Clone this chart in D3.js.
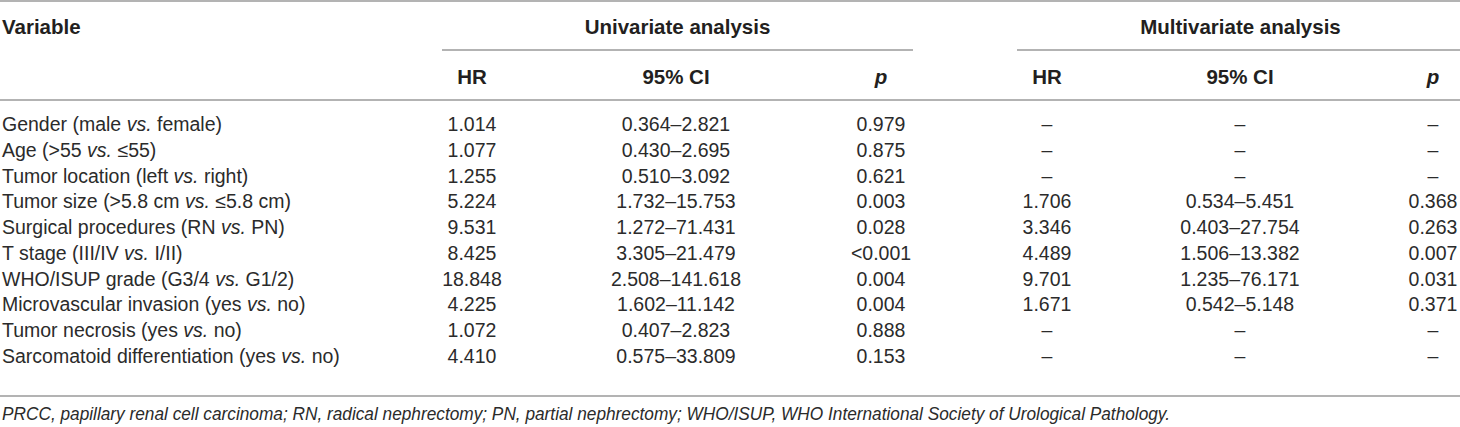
<!DOCTYPE html>
<html>
<head>
<meta charset="utf-8">
<script src="https://cdn.jsdelivr.net/npm/d3@7"></script>
<style>
  html, body { margin: 0; padding: 0; background: #fff; }
  svg { display: block; }
  text { font-family: "Liberation Sans", Arial, Helvetica, sans-serif; }
</style>
</head>
<body>
<div id="chart"></div>
<script>
// ---------- data ----------
const variables = [
  ["Gender (male ", "vs.", " female)"],
  ["Age (>55 ", "vs.", " ≤55)"],
  ["Tumor location (left ", "vs.", " right)"],
  ["Tumor size (>5.8 cm ", "vs.", " ≤5.8 cm)"],
  ["Surgical procedures (RN ", "vs.", " PN)"],
  ["T stage (III/IV ", "vs.", " I/II)"],
  ["WHO/ISUP grade (G3/4 ", "vs.", " G1/2)"],
  ["Microvascular invasion (yes ", "vs.", " no)"],
  ["Tumor necrosis (yes ", "vs.", " no)"],
  ["Sarcomatoid differentiation (yes ", "vs.", " no)"]
];
const uniHR = [1.014, 1.077, 1.255, 5.224, 9.531, 8.425, 18.848, 4.225, 1.072, 4.410];
const uniCI = [[0.364, 2.821], [0.430, 2.695], [0.510, 3.092], [1.732, 15.753], [1.272, 71.431],
               [3.305, 21.479], [2.508, 141.618], [1.602, 11.142], [0.407, 2.823], [0.575, 33.809]];
const uniP = ["0.979", "0.875", "0.621", "0.003", "0.028", "<0.001", "0.004", "0.004", "0.888", "0.153"];
const multiHR = [null, null, null, 1.706, 3.346, 4.489, 9.701, 1.671, null, null];
const multiCI = [null, null, null, [0.534, 5.451], [0.403, 27.754], [1.506, 13.382], [1.235, 76.171],
                 [0.542, 5.148], null, null];
const multiP = [null, null, null, "0.368", "0.263", "0.007", "0.031", "0.371", null, null];
const groupHeaders = ["Univariate analysis", "Multivariate analysis"];
const columnHeaders = ["HR", "95% CI", "p", "HR", "95% CI", "p"];
const footnote = "PRCC, papillary renal cell carcinoma; RN, radical nephrectomy; PN, partial nephrectomy; WHO/ISUP, WHO International Society of Urological Pathology.";

// ---------- layout ----------
const W = 1460, H = 427;
const ruleColor = "#9a9a9a";
const textColor = "#231f20";
const bodyColor = "#2b2b2b";
const fsHead = 20.5;
const fsBody = 19.5;

const svg = d3.select("#chart").append("svg").attr("width", W).attr("height", H);

const colKeys = ["uHR", "uCI", "uP", "mHR", "mCI", "mP"];
const xCol = d3.scaleOrdinal().domain(colKeys).range([472, 676, 881, 1047, 1240, 1433]);
const yRow = d3.scaleLinear().domain([0, variables.length - 1]).range([131, 363]);

const fmt = d3.format(".3f");
const dash = "–";
const fmtHR = v => v == null ? dash : fmt(v);
const fmtCI = v => v == null ? dash : fmt(v[0]) + "–" + fmt(v[1]);
const fmtP = v => v == null ? dash : v;

// rules
function rule(x1, x2, y) {
  svg.append("line").attr("x1", x1).attr("x2", x2).attr("y1", y).attr("y2", y)
    .attr("stroke", ruleColor).attr("stroke-width", 1.5);
}
rule(0, W, 1);
rule(442, 913, 50);
rule(1017, W, 50);
rule(0, W, 100);
rule(0, W, 396);

// header row 1
svg.append("text").attr("x", 2).attr("y", 34).attr("font-size", fsHead).attr("font-weight", "bold")
  .attr("fill", textColor).text("Variable");
svg.selectAll(".grp").data(groupHeaders).join("text")
  .attr("x", (d, i) => i === 0 ? (442 + 913) / 2 : (1017 + W) / 2 + 2)
  .attr("y", 34).attr("text-anchor", "middle").attr("font-size", fsHead).attr("font-weight", "bold")
  .attr("fill", textColor).text(d => d);

// header row 2
svg.selectAll(".colh").data(columnHeaders).join("text")
  .attr("x", (d, i) => xCol(colKeys[i]))
  .attr("y", 84).attr("text-anchor", "middle").attr("font-size", fsHead).attr("font-weight", "bold")
  .attr("font-style", d => d === "p" ? "italic" : null)
  .attr("fill", textColor).text(d => d);

// variable column
const vt = svg.selectAll(".var").data(variables).join("text")
  .attr("x", 2).attr("y", (d, i) => yRow(i)).attr("font-size", fsBody).attr("fill", bodyColor);
vt.each(function (d) {
  const t = d3.select(this);
  t.append("tspan").text(d[0]);
  t.append("tspan").attr("font-style", "italic").text(d[1]);
  t.append("tspan").text(d[2]);
});

// data cells
const cols = [
  ["uHR", uniHR, fmtHR], ["uCI", uniCI, fmtCI], ["uP", uniP, fmtP],
  ["mHR", multiHR, fmtHR], ["mCI", multiCI, fmtCI], ["mP", multiP, fmtP]
];
cols.forEach(([key, arr, f]) => {
  svg.selectAll(".c-" + key).data(arr).join("text")
    .attr("x", xCol(key)).attr("y", (d, i) => yRow(i))
    .attr("text-anchor", "middle").attr("font-size", fsBody).attr("fill", bodyColor)
    .text(d => f(d));
});

// footnote (condensed italic)
svg.append("text").attr("x", 2).attr("y", 420).attr("font-size", 18.5).attr("font-style", "italic")
  .attr("textLength", 1168).attr("lengthAdjust", "spacingAndGlyphs")
  .attr("fill", bodyColor).text(footnote);
</script>
</body>
</html>
